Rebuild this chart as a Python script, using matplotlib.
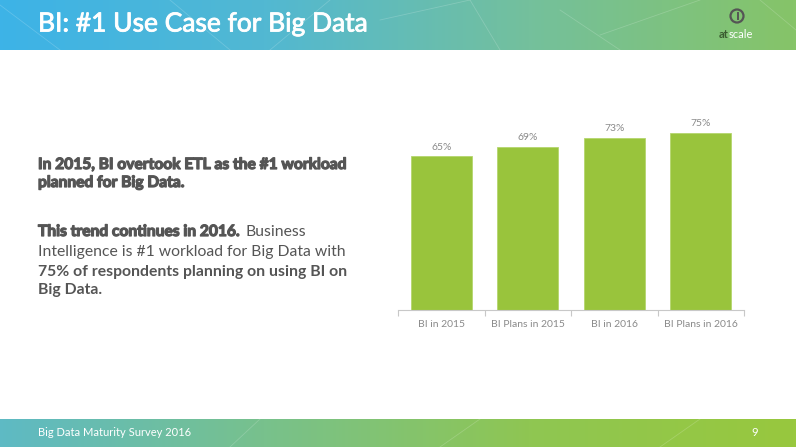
import numpy as np
import matplotlib
matplotlib.use("Agg")
import matplotlib.pyplot as plt
import matplotlib.patheffects as pe
from matplotlib.colors import LinearSegmentedColormap

# data
categories = ["BI in 2015", "BI Plans in 2015", "BI in 2016", "BI Plans in 2016"]
values = [65, 69, 73, 75]
value_labels = ["65%", "69%", "73%", "75%"]

title = "BI: #1 Use Case for Big Data"
footer = "Big Data Maturity Survey 2016"
page_no = "9"

W, H = 796, 447
fig = plt.figure(figsize=(W / 100, H / 100), dpi=100)
fig.patch.set_facecolor("white")

# header and footer gradient bands
bg = fig.add_axes([0, 0, 1, 1], zorder=0)
bg.axis("off")
grad = np.linspace(0, 1, 256).reshape(1, -1)
head_cmap = LinearSegmentedColormap.from_list("head", ["#3db3e7", "#52b8d2", "#74c09c", "#86c468"])
foot_cmap = LinearSegmentedColormap.from_list("foot", ["#5ebac4", "#78c18c", "#8fc652", "#98c83e"])
bg.imshow(grad, cmap=head_cmap, extent=[0, W, 50, 0], aspect="auto")
bg.imshow(grad, cmap=foot_cmap, extent=[0, W, H, 419], aspect="auto")
bg.set_xlim(0, W)
bg.set_ylim(H, 0)

# faint network lines in the bands
net_lines = [((0, 5), (60, 50)), ((170, 0), (230, 50)), ((270, 50), (330, 0)),
             ((380, 20), (470, 0)), ((470, 0), (500, 50)), ((560, 10), (620, 50)),
             ((600, 35), (700, 0)), ((760, 0), (796, 30)), ((230, 447), (260, 419)),
             ((440, 447), (480, 419)), ((660, 447), (700, 419))]
for (x0, y0), (x1, y1) in net_lines:
    bg.plot([x0, x1], [y0, y1], color="white", alpha=0.18, lw=0.6)

fig.text(38 / W, 1 - 24 / H, title, color="white", fontsize=19, family="Lato",
         va="center", ha="left",
         path_effects=[pe.withStroke(linewidth=0.6, foreground="white")])
fig.text(38 / W, 1 - 432 / H, footer, color="white", fontsize=8, family="Lato",
         va="center", ha="left")
fig.text(755 / W, 1 - 432 / H, page_no, color="white", fontsize=8, family="Lato",
         va="center", ha="center")

# logo
bg.add_patch(plt.Circle((737, 16), 6.5, fill=False, ec="#555555", lw=1.6))
bg.plot([738, 738], [13, 19], color="#555555", lw=1.4)
fig.text(719 / W, 1 - 34 / H, "at", color="#3a5a30", fontsize=8, family="Lato",
         fontweight="bold", va="center", ha="left")
fig.text(729 / W, 1 - 34 / H, "scale", color="white", fontsize=8, family="Lato",
         va="center", ha="left")

# left text block
dark = "#555555"
fs = 11.3
hs = 11.2
heavy = [pe.withStroke(linewidth=0.9, foreground=dark)]
fig.text(38 / W, 1 - 165 / H, "In 2015, BI overtook ETL as the #1 workload",
         color=dark, fontsize=hs, family="Lato", fontweight="bold", va="center",
         path_effects=heavy)
fig.text(38 / W, 1 - 183 / H, "planned for Big Data.",
         color=dark, fontsize=hs, family="Lato", fontweight="bold", va="center",
         path_effects=heavy)
t = fig.text(38 / W, 1 - 232 / H, "This trend continues in 2016.",
             color=dark, fontsize=hs, family="Lato", fontweight="bold", va="center",
             path_effects=heavy)
fig.canvas.draw()
bb = t.get_window_extent()
fig.text(bb.x1 / W + 6 / W, 1 - 232 / H, "Business", color=dark, fontsize=fs,
         family="Lato", va="center")
fig.text(38 / W, 1 - 252 / H, "Intelligence is #1 workload for Big Data with",
         color=dark, fontsize=fs, family="Lato", va="center")
fig.text(38 / W, 1 - 272 / H, "75% of respondents planning on using BI on",
         color=dark, fontsize=fs, family="Lato", fontweight="bold", va="center")
fig.text(38 / W, 1 - 290 / H, "Big Data.",
         color=dark, fontsize=fs, family="Lato", fontweight="bold", va="center")

# bar chart
ax = fig.add_axes([398 / W, 1 - 310 / H, 346 / W, 189 / H], zorder=2)
ax.patch.set_alpha(0)
x = np.arange(len(categories))
ax.bar(x, values, width=0.71, color="#99c43c", edgecolor="#b5d66e", lw=0.6)
for xi, v, lab in zip(x, values, value_labels):
    ax.text(xi, v + 2.0, lab, ha="center", va="bottom", color="#8a8a8a",
            fontsize=7.5, family="Lato")
ax.set_xlim(-0.5, len(categories) - 0.5)
ax.set_ylim(0, 80)
ax.set_xticks(x)
ax.set_xticklabels(categories, color="#8a8a8a", fontsize=7.5, family="Lato")
ax.set_xticks(np.arange(-0.5, len(categories), 1), minor=True)
ax.tick_params(axis="x", which="major", length=0, pad=7)
ax.tick_params(axis="x", which="minor", length=4, color="#c8c8c8", width=0.8)
ax.set_yticks([])
for s in ["top", "right", "left"]:
    ax.spines[s].set_visible(False)
ax.spines["bottom"].set_color("#c8c8c8")
ax.spines["bottom"].set_linewidth(0.8)

fig.savefig("out.png", dpi=100)
